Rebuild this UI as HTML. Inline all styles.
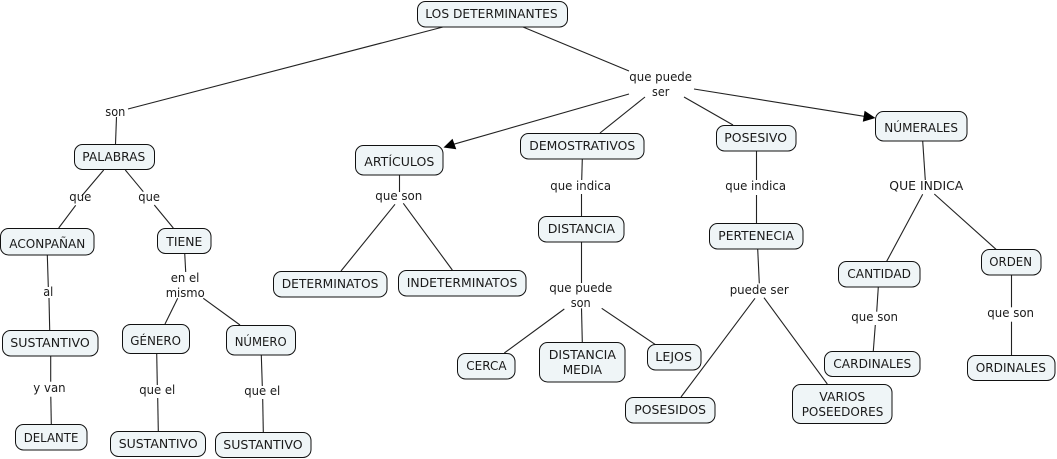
<!DOCTYPE html>
<html><head><meta charset="utf-8"><style>
html,body{margin:0;padding:0;background:#fff}
svg{display:block}
.b rect{fill:#eff5f7;stroke:#111;stroke-width:1}
.l line{stroke:#222;stroke-width:1.1}
text{font-family:"DejaVu Sans","Liberation Sans",sans-serif;font-size:12.8px;fill:#1a1a1a}
</style></head><body>
<svg width="1057" height="459" viewBox="0 0 1057 459" xmlns="http://www.w3.org/2000/svg">
<rect width="1057" height="459" fill="#fff"/>
<g class="l">
<line x1="443" y1="27" x2="128" y2="109"/>
<line x1="116.5" y1="117" x2="115.5" y2="144"/>
<line x1="523" y1="27" x2="629" y2="71"/>
<line x1="629" y1="94" x2="450" y2="145.3"/>
<line x1="645" y1="97" x2="600" y2="133"/>
<line x1="684" y1="97" x2="733" y2="125"/>
<line x1="694" y1="89" x2="868" y2="116.9"/>
<line x1="103.7" y1="170" x2="81.7" y2="196"/>
<line x1="75.7" y1="205.3" x2="58.7" y2="228"/>
<line x1="125.3" y1="170" x2="143.3" y2="191.7"/>
<line x1="154.3" y1="205" x2="173.3" y2="228"/>
<line x1="184.7" y1="253" x2="185.7" y2="272"/>
<line x1="177.7" y1="298.3" x2="165" y2="324"/>
<line x1="203.3" y1="298.3" x2="240" y2="325"/>
<line x1="47.3" y1="255" x2="48.3" y2="287"/>
<line x1="49" y1="298" x2="49.7" y2="330"/>
<line x1="50.7" y1="356" x2="50.7" y2="381.7"/>
<line x1="50.8" y1="396.7" x2="51.3" y2="424"/>
<line x1="156.7" y1="353" x2="157.3" y2="385"/>
<line x1="157.7" y1="398" x2="158.3" y2="431"/>
<line x1="261.3" y1="355" x2="262.3" y2="386"/>
<line x1="262.7" y1="399" x2="263.3" y2="432"/>
<line x1="399.5" y1="175" x2="399.5" y2="192"/>
<line x1="395" y1="204.3" x2="341" y2="271"/>
<line x1="403.3" y1="203.3" x2="452.3" y2="270"/>
<line x1="582.3" y1="159" x2="581.7" y2="180"/>
<line x1="581.5" y1="194" x2="581.5" y2="216"/>
<line x1="581.5" y1="242" x2="581.5" y2="283"/>
<line x1="564.3" y1="309" x2="504.3" y2="353"/>
<line x1="581.5" y1="308.3" x2="582.3" y2="342"/>
<line x1="601.7" y1="308.3" x2="655" y2="344.3"/>
<line x1="756.5" y1="151" x2="756.5" y2="180"/>
<line x1="756.5" y1="195" x2="756.5" y2="223"/>
<line x1="757.7" y1="249" x2="759.3" y2="283.3"/>
<line x1="755" y1="298.3" x2="681" y2="397"/>
<line x1="764" y1="297.7" x2="827.3" y2="384"/>
<line x1="922.7" y1="141" x2="925.3" y2="180"/>
<line x1="922.7" y1="194.3" x2="886.7" y2="261.3"/>
<line x1="934.3" y1="194" x2="996" y2="249.3"/>
<line x1="878.3" y1="287" x2="876.7" y2="311.7"/>
<line x1="875.3" y1="325" x2="873.3" y2="351"/>
<line x1="1011.5" y1="275" x2="1011.5" y2="307.3"/>
<line x1="1011.5" y1="321.7" x2="1011.5" y2="355"/>
</g>
<polygon points="443.5,147.5 452.5,138.7 456.3,149.3" fill="#000"/>
<polygon points="875.5,118 864.6,110.7 862.8,121.8" fill="#000"/>
<g class="b">
<rect x="417.5" y="1.5" width="150" height="25.5" rx="8"/>
<rect x="74.5" y="144.5" width="80" height="25" rx="8"/>
<rect x="0.5" y="228.5" width="93.5" height="26.5" rx="8"/>
<rect x="157.5" y="228.5" width="53.5" height="25" rx="8"/>
<rect x="2.5" y="330.5" width="95.5" height="25.5" rx="8"/>
<rect x="122.5" y="324.5" width="67" height="29" rx="8"/>
<rect x="226.5" y="325.5" width="69" height="29.5" rx="8"/>
<rect x="15.5" y="424.5" width="71.5" height="25.5" rx="8"/>
<rect x="110.5" y="431.5" width="95" height="25" rx="8"/>
<rect x="215.5" y="432.5" width="95.5" height="25" rx="8"/>
<rect x="355.5" y="145.5" width="87.5" height="29.5" rx="8"/>
<rect x="520.5" y="133.5" width="123.5" height="25.5" rx="8"/>
<rect x="716.5" y="125.5" width="79.5" height="25.5" rx="8"/>
<rect x="875.5" y="111.5" width="91.5" height="29.5" rx="8"/>
<rect x="709.5" y="223.5" width="93.5" height="25.5" rx="8"/>
<rect x="838.5" y="261.5" width="81.5" height="25.5" rx="8"/>
<rect x="824.5" y="351.5" width="95.5" height="25" rx="8"/>
<rect x="647.5" y="344.5" width="53.5" height="25.5" rx="8"/>
<rect x="625.5" y="397.5" width="89.5" height="25.5" rx="8"/>
<rect x="792.5" y="384.5" width="99.5" height="39" rx="8"/>
<rect x="981.5" y="249.5" width="59.5" height="25.5" rx="8"/>
<rect x="967.5" y="355.5" width="87.5" height="25" rx="8"/>
<rect x="273.5" y="271.5" width="113.5" height="25.5" rx="8"/>
<rect x="398.5" y="270.5" width="127.5" height="25.5" rx="8"/>
<rect x="538.5" y="216.5" width="85.5" height="25.5" rx="8"/>
<rect x="457.5" y="353.5" width="57.5" height="25.5" rx="8"/>
<rect x="539.5" y="342.5" width="85.5" height="39.5" rx="8"/>
</g>
<g>
<text x="425.3" y="18" textLength="132.4" lengthAdjust="spacingAndGlyphs">LOS DETERMINANTES</text>
<text x="82.3" y="161" textLength="63" lengthAdjust="spacingAndGlyphs">PALABRAS</text>
<text x="9.3" y="248" textLength="76" lengthAdjust="spacingAndGlyphs">ACONPAÑAN</text>
<text x="166.3" y="246" textLength="36" lengthAdjust="spacingAndGlyphs">TIENE</text>
<text x="10.3" y="347" textLength="79.5" lengthAdjust="spacingAndGlyphs">SUSTANTIVO</text>
<text x="130.3" y="345" textLength="50.7" lengthAdjust="spacingAndGlyphs">GÉNERO</text>
<text x="234.7" y="346" textLength="52" lengthAdjust="spacingAndGlyphs">NÚMERO</text>
<text x="23.7" y="442" textLength="54.7" lengthAdjust="spacingAndGlyphs">DELANTE</text>
<text x="118.7" y="448" textLength="79" lengthAdjust="spacingAndGlyphs">SUSTANTIVO</text>
<text x="223.3" y="449" textLength="79.3" lengthAdjust="spacingAndGlyphs">SUSTANTIVO</text>
<text x="364.3" y="166" textLength="70" lengthAdjust="spacingAndGlyphs">ARTÍCULOS</text>
<text x="529.3" y="150" textLength="106" lengthAdjust="spacingAndGlyphs">DEMOSTRATIVOS</text>
<text x="724.3" y="142" textLength="62.7" lengthAdjust="spacingAndGlyphs">POSESIVO</text>
<text x="884.3" y="132" textLength="73.7" lengthAdjust="spacingAndGlyphs">NÚMERALES</text>
<text x="718.3" y="240" textLength="75.7" lengthAdjust="spacingAndGlyphs">PERTENECIA</text>
<text x="847.3" y="278" textLength="63.7" lengthAdjust="spacingAndGlyphs">CANTIDAD</text>
<text x="833.3" y="368" textLength="78" lengthAdjust="spacingAndGlyphs">CARDINALES</text>
<text x="655.3" y="361" textLength="36.7" lengthAdjust="spacingAndGlyphs">LEJOS</text>
<text x="634.3" y="414" textLength="71.7" lengthAdjust="spacingAndGlyphs">POSESIDOS</text>
<text x="819.3" y="401" textLength="46" lengthAdjust="spacingAndGlyphs">VARIOS</text>
<text x="801.7" y="416" textLength="81.7" lengthAdjust="spacingAndGlyphs">POSEEDORES</text>
<text x="989.3" y="266" textLength="42.7" lengthAdjust="spacingAndGlyphs">ORDEN</text>
<text x="975.7" y="372" textLength="70.3" lengthAdjust="spacingAndGlyphs">ORDINALES</text>
<text x="281.7" y="288" textLength="96.7" lengthAdjust="spacingAndGlyphs">DETERMINATOS</text>
<text x="406.7" y="287" textLength="110.7" lengthAdjust="spacingAndGlyphs">INDETERMINATOS</text>
<text x="547.7" y="233" textLength="67.3" lengthAdjust="spacingAndGlyphs">DISTANCIA</text>
<text x="466.3" y="370" textLength="40.3" lengthAdjust="spacingAndGlyphs">CERCA</text>
<text x="548.7" y="359" textLength="67.3" lengthAdjust="spacingAndGlyphs">DISTANCIA</text>
<text x="562.7" y="374" textLength="39.3" lengthAdjust="spacingAndGlyphs">MEDIA</text>
<text x="105.3" y="116" textLength="20" lengthAdjust="spacingAndGlyphs">son</text>
<text x="629.3" y="81" textLength="62.7" lengthAdjust="spacingAndGlyphs">que puede</text>
<text x="652" y="96" textLength="17.3" lengthAdjust="spacingAndGlyphs">ser</text>
<text x="69.3" y="201" textLength="22" lengthAdjust="spacingAndGlyphs">que</text>
<text x="138.3" y="201" textLength="21.7" lengthAdjust="spacingAndGlyphs">que</text>
<text x="43.3" y="296" textLength="10" lengthAdjust="spacingAndGlyphs">al</text>
<text x="170.7" y="282" textLength="28.7" lengthAdjust="spacingAndGlyphs">en el</text>
<text x="165.7" y="297" textLength="39" lengthAdjust="spacingAndGlyphs">mismo</text>
<text x="33.3" y="392" textLength="32.3" lengthAdjust="spacingAndGlyphs">y van</text>
<text x="139.3" y="394" textLength="36" lengthAdjust="spacingAndGlyphs">que el</text>
<text x="244.3" y="395" textLength="36" lengthAdjust="spacingAndGlyphs">que el</text>
<text x="375.3" y="200" textLength="47" lengthAdjust="spacingAndGlyphs">que son</text>
<text x="550.3" y="190" textLength="60.7" lengthAdjust="spacingAndGlyphs">que indica</text>
<text x="549.3" y="292" textLength="63" lengthAdjust="spacingAndGlyphs">que puede</text>
<text x="570.7" y="307" textLength="20" lengthAdjust="spacingAndGlyphs">son</text>
<text x="725.3" y="190" textLength="60.7" lengthAdjust="spacingAndGlyphs">que indica</text>
<text x="889.3" y="190" textLength="74" lengthAdjust="spacingAndGlyphs">QUE INDICA</text>
<text x="729.7" y="294" textLength="59" lengthAdjust="spacingAndGlyphs">puede ser</text>
<text x="851.3" y="321" textLength="46.7" lengthAdjust="spacingAndGlyphs">que son</text>
<text x="987.3" y="317" textLength="46.7" lengthAdjust="spacingAndGlyphs">que son</text>
</g>
</svg>
</body></html>
